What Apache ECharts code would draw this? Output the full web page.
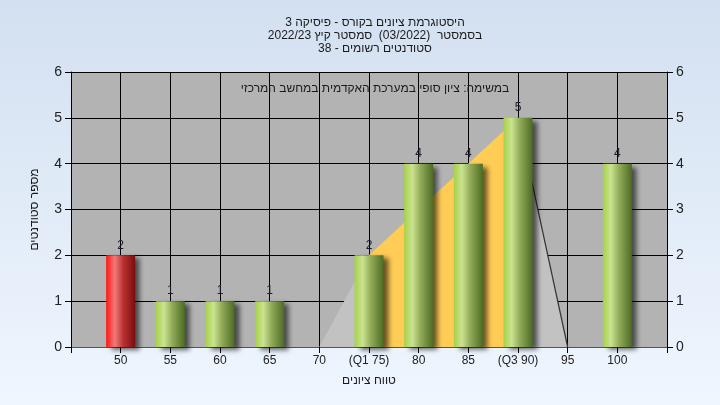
<!DOCTYPE html>
<html><head><meta charset="utf-8">
<script src="https://cdn.jsdelivr.net/npm/echarts@6/dist/echarts.min.js"></script>
<style>html,body{margin:0;padding:0;}#c{width:720px;height:405px;}</style>
</head><body><div id="c"></div>
<script>
const titleLines = ['היסטוגרמת ציונים בקורס - פיסיקה 3', 'בסמסטר  (03/2022)  סמסטר קיץ 2022/23', 'סטודנטים רשומים - 38'];
const subTitle = 'במשימה: ציון סופי במערכת האקדמית במחשב המרכזי';
const xName = 'טווח ציונים';
const yName = 'מספר סטודנטים';
const binValues = [50, 55, 60, 65, 70, 75, 80, 85, 90, 95, 100];
const binLabels = ['50', '55', '60', '65', '70', '(Q1 75)', '80', '85', '(Q3 90)', '95', '100'];
const counts = [2, 1, 1, 1, 0, 2, 4, 4, 5, 0, 4];
const failBins = [50];
const curveX = [70, 75, 80, 85, 90, 95];
const curveY = [0, 2, 3, 4, 5, 0];
const q1 = 75, q3 = 90;

const FONT = "'Liberation Sans', 'DejaVu Sans', Arial, sans-serif";
const G = echarts.graphic.LinearGradient;
const greenGrad = new G(0, 0, 1, 0, [
  {offset: 0, color: '#a6d149'}, {offset: 0.28, color: '#cbe391'},
  {offset: 0.55, color: '#93ad5a'}, {offset: 1, color: '#4d6b24'}]);
const redGrad = new G(0, 0, 1, 0, [
  {offset: 0, color: '#ff1414'}, {offset: 0.3, color: '#f07a7a'},
  {offset: 0.6, color: '#b83030'}, {offset: 1, color: '#7a0e0e'}]);

const labelMap = {};
binValues.forEach((v, i) => labelMap[v] = binLabels[i]);

const barData = binValues.map((v, i) => ({
  value: [v, counts[i]],
  itemStyle: {color: failBins.includes(v) ? redGrad : greenGrad},
  label: {show: counts[i] > 0}
}));
const curveData = curveX.map((x, i) => [x, curveY[i]]);
const quartData = curveData.filter(p => p[0] >= q1 && p[0] <= q3);
const tailData = curveData.filter(p => p[0] >= q3);

const chart = echarts.init(document.getElementById('c'), null, {renderer: 'canvas'});
chart.setOption({
  animation: false,
  backgroundColor: new G(0, 0, 0, 1, [{offset: 0, color: '#d3e0f1'}, {offset: 1, color: '#eff6fe'}]),
  textStyle: {fontFamily: FONT},
  title: [
    {text: titleLines.join('\n'), left: 370, top: 11, textAlign: 'center',
     textStyle: {fontSize: 12, fontWeight: 'normal', color: '#1a1a1a', lineHeight: 13, fontFamily: FONT}},
    {text: subTitle, left: 370, top: 78, textAlign: 'center',
     textStyle: {fontSize: 12, fontWeight: 'normal', color: '#1a1a1a', fontFamily: FONT}}
  ],
  grid: {left: 71, right: 53, top: 72, bottom: 58, show: true, backgroundColor: '#b3b3b3', borderWidth: 0},
  xAxis: {
    type: 'value', min: 45, max: 105, interval: 5,
    name: xName, nameLocation: 'middle', nameGap: 28,
    nameTextStyle: {fontSize: 12, color: '#1a1a1a', fontFamily: FONT},
    axisLine: {show: true, onZero: false, lineStyle: {color: '#555', width: 1}},
    axisTick: {show: true, length: 6, lineStyle: {color: '#000'}},
    axisLabel: {fontSize: 12, color: '#222', margin: 8, fontFamily: FONT,
      formatter: v => labelMap[v] || ''},
    splitLine: {show: true, lineStyle: {color: '#000', width: 1}}
  },
  yAxis: [
    {type: 'value', min: 0, max: 6, interval: 1, position: 'left',
     name: yName, nameLocation: 'middle', nameGap: 30, nameRotate: 90,
     nameTextStyle: {fontSize: 12, color: '#1a1a1a', fontFamily: FONT},
     axisLine: {show: true, lineStyle: {color: '#000'}},
     axisTick: {show: true, length: 6, lineStyle: {color: '#000'}},
     axisLabel: {fontSize: 14, color: '#222', margin: 9, fontFamily: FONT},
     splitLine: {show: true, lineStyle: {color: '#000', width: 1}}},
    {type: 'value', min: 0, max: 6, interval: 1, position: 'right',
     axisLine: {show: true, lineStyle: {color: '#000'}},
     axisTick: {show: true, length: 6, lineStyle: {color: '#000'}},
     axisLabel: {fontSize: 14, color: '#222', margin: 9, fontFamily: FONT},
     splitLine: {show: false}}
  ],
  series: [
    {type: 'line', data: curveData, symbol: 'none', z: 1,
     lineStyle: {width: 0, opacity: 0}, areaStyle: {color: '#c2c2c2', opacity: 1}},
    {type: 'line', data: quartData, symbol: 'none', z: 2,
     lineStyle: {width: 0, opacity: 0}, areaStyle: {color: '#ffcc55', opacity: 1}},
    {type: 'line', data: tailData, symbol: 'none', z: 3,
     lineStyle: {width: 1.2, color: '#333'}},
    {type: 'bar', data: barData, barWidth: 29, z: 5,
     itemStyle: {shadowColor: 'rgba(0,0,0,0.6)', shadowBlur: 5, shadowOffsetX: 5, shadowOffsetY: 3},
     label: {position: 'top', distance: 4, fontSize: 12, color: '#1c1c2c', fontFamily: FONT,
       formatter: p => p.value[1]}}
  ]
});
</script></body></html>
